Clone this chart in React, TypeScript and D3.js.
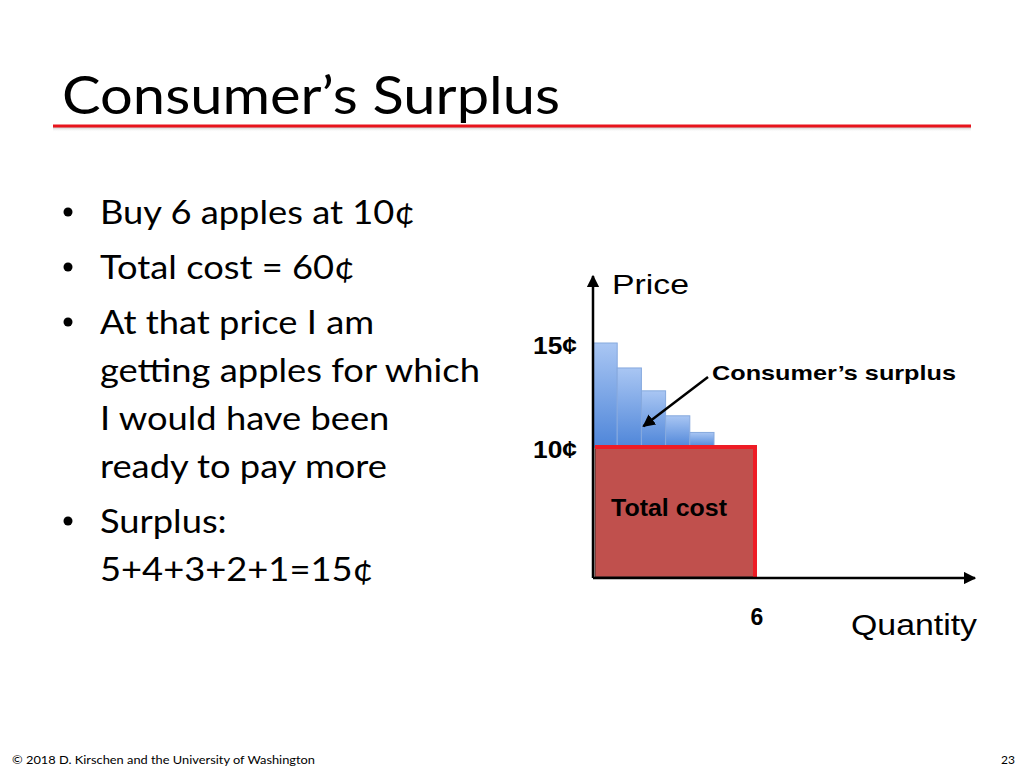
import React from 'react';
import * as d3 from 'd3';

// values
const surplusPrices = [15, 13.8, 12.7, 11.5, 10.7];
const marketPrice = 10;
const quantityBought = 6;
const priceTicks = [10, 15];
const quantityTicks = [6];
const bullets = [
  ['Buy 6 apples at 10¢'],
  ['Total cost = 60¢'],
  ['At that price I am', 'getting apples for which', 'I would have been', 'ready to pay more'],
  ['Surplus:', '5+4+3+2+1=15¢'],
];

const W = 1024;
const H = 768;
const axisX = 593;
const axisY = 578;
const sans = "'Liberation Sans', Arial, sans-serif";
const body = "Lato, 'Open Sans', sans-serif";

const App: React.FC = () => {
  const yScale = d3.scaleLinear().domain([10, 15]).range([447, 343]);
  const xBand = d3
    .scaleBand<number>()
    .domain(d3.range(surplusPrices.length))
    .range([axisX, 714])
    .padding(0);
  const xQty = d3.scaleLinear().domain([0, 6]).range([axisX, 755]);

  // bullet baselines
  let y = 224;
  const lines: { text: string; y: number; bullet: boolean }[] = [];
  bullets.forEach((b) => {
    b.forEach((t, i) => {
      lines.push({ text: t, y, bullet: i === 0 });
      y += 48;
    });
    y += 7;
  });

  const costTop = yScale(marketPrice);
  const costRight = xQty(quantityBought);

  return (
    <div style={{ position: 'absolute', left: 0, top: 0 }}>
      <svg width={W} height={H} style={{ display: 'block', background: '#fff' }}>
        <defs>
          <linearGradient id="blueBar" x1="0" y1="0" x2="0" y2="1">
            <stop offset="0%" stopColor="#a9c6f3" />
            <stop offset="100%" stopColor="#4f86d9" />
          </linearGradient>
          <linearGradient id="shadow" x1="0" y1="0" x2="0" y2="1">
            <stop offset="0%" stopColor="#999" stopOpacity={0.6} />
            <stop offset="100%" stopColor="#fff" stopOpacity={0} />
          </linearGradient>
          <marker id="arrowBlack" viewBox="0 0 10 10" refX="9" refY="5" markerWidth="5" markerHeight="5" orient="auto">
            <path d="M0,0 L10,5 L0,10 z" fill="#000" />
          </marker>
        </defs>

        {/* title */}
        <text
          x={62}
          y={114}
          fontFamily={body}
          fontSize={52}
          fill="#000"
          textLength={498}
          lengthAdjust="spacingAndGlyphs"
        >
          Consumer’s Surplus
        </text>
        <rect x={53} y={127} width={918} height={5} fill="url(#shadow)" />
        <line x1={53} x2={971} y1={126} y2={126} stroke="#e8141c" strokeWidth={3} />

        {/* bullets */}
        {lines.map((l, i) => (
          <g key={i}>
            {l.bullet && <circle cx={68} cy={l.y - 12} r={4.5} fill="#000" />}
            <text
              transform={`translate(100,${l.y}) scale(1.1,1)`}
              fontFamily={body}
              fontSize={33}
              fill="#000"
            >
              {l.text}
            </text>
          </g>
        ))}

        {/* surplus bars */}
        {surplusPrices.map((p, i) => (
          <rect
            key={i}
            x={xBand(i)}
            y={yScale(p)}
            width={xBand.bandwidth()}
            height={yScale(marketPrice) - yScale(p)}
            fill="url(#blueBar)"
            stroke="#86a9de"
            strokeWidth={1}
          />
        ))}

        {/* total cost */}
        <rect
          x={xQty(0) + 2}
          y={costTop}
          width={costRight - xQty(0) - 2}
          height={axisY - costTop - 1}
          fill="#c0504d"
          stroke="#3a2a2a"
          strokeWidth={1}
        />
        <line x1={xQty(0) + 2} x2={costRight} y1={costTop} y2={costTop} stroke="#ee1c25" strokeWidth={4} />
        <line x1={costRight} x2={costRight} y1={costTop - 2} y2={axisY} stroke="#ee1c25" strokeWidth={4} />
        <text
          x={611}
          y={516}
          fontFamily={sans}
          fontWeight="bold"
          fontSize={23}
          fill="#000"
          textLength={116}
          lengthAdjust="spacingAndGlyphs"
        >
          Total cost
        </text>

        {/* axes */}
        <line x1={axisX} x2={axisX} y1={axisY} y2={276} stroke="#000" strokeWidth={2.5} markerEnd="url(#arrowBlack)" />
        <line x1={axisX} x2={975} y1={axisY} y2={axisY} stroke="#000" strokeWidth={2.5} markerEnd="url(#arrowBlack)" />

        {priceTicks.map((t) => (
          <text
            key={t}
            x={577}
            y={yScale(t) + 11}
            textAnchor="end"
            fontFamily={sans}
            fontWeight="bold"
            fontSize={24.5}
            fill="#000"
            textLength={44}
            lengthAdjust="spacingAndGlyphs"
          >
            {t}¢
          </text>
        ))}
        {quantityTicks.map((t) => (
          <text
            key={t}
            x={xQty(t) + 2}
            y={625}
            textAnchor="middle"
            fontFamily={sans}
            fontWeight="bold"
            fontSize={23}
            fill="#000"
          >
            {t}
          </text>
        ))}

        <text x={612} y={294} fontFamily={sans} fontSize={28} fill="#000" textLength={77} lengthAdjust="spacingAndGlyphs">
          Price
        </text>
        <text x={851} y={635} fontFamily={sans} fontSize={30} fill="#000" textLength={126} lengthAdjust="spacingAndGlyphs">
          Quantity
        </text>

        {/* surplus annotation */}
        <line
          x1={708}
          y1={377}
          x2={xBand(2)! + 2}
          y2={yScale(11)}
          stroke="#000"
          strokeWidth={2.5}
          markerEnd="url(#arrowBlack)"
        />
        <text
          x={712}
          y={380}
          fontFamily={sans}
          fontWeight="bold"
          fontSize={21}
          fill="#000"
          textLength={244}
          lengthAdjust="spacingAndGlyphs"
        >
          Consumer’s surplus
        </text>

        {/* footer */}
        <text x={12} y={764} fontFamily={body} fontSize={12} fill="#000" textLength={303} lengthAdjust="spacingAndGlyphs">
          © 2018 D. Kirschen and the University of Washington
        </text>
        <text x={1015} y={764} textAnchor="end" fontFamily={body} fontSize={12} fill="#000">
          23
        </text>
      </svg>
    </div>
  );
};

export default App;
